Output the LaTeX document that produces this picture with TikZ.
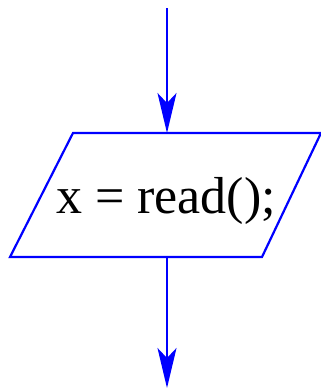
\documentclass[tikz,border=0pt]{standalone}
\usepackage{fontspec}
\setmainfont{Liberation Serif}
\usetikzlibrary{arrows.meta}
\definecolor{flowblue}{RGB}{0,0,255}
\begin{document}
\begin{tikzpicture}[x=1pt,y=-1pt,
  edge/.style={draw=flowblue,line width=2.2pt},
  flow/.style={edge,-{Stealth[length=40pt,width=19pt,inset=10pt]}},
  label/.style={font=\fontsize{52}{60}\selectfont,inner sep=0pt}]
\useasboundingbox (0,0) rectangle (321,391);
\coordinate (start) at (167,8);
\coordinate (tl) at (73,133);
\coordinate (tr) at (321,133);
\coordinate (br) at (262,257);
\coordinate (bl) at (10,257);
\coordinate (intop) at (167,133);
\coordinate (inbot) at (167,257);
\coordinate (end) at (167,388);
\draw[edge,line join=miter] (tl) -- (tr) -- (br) -- (bl) -- cycle;
\node[label,anchor=base] (txt) at (166,213) {x = read();};
\draw[flow] (start) -- (intop);
\draw[flow] (inbot) -- (end);
\end{tikzpicture}
\end{document}
